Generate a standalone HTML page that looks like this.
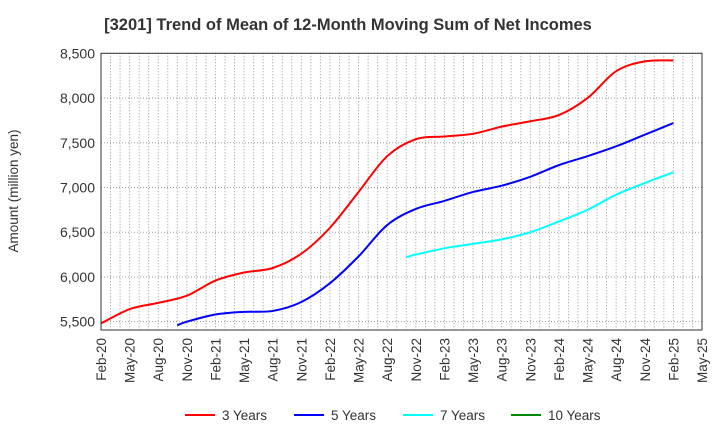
<!DOCTYPE html>
<html><head><meta charset="utf-8"><style>
body{margin:0;background:#fff;font-family:"Liberation Sans",Arial,sans-serif}
svg text{font-family:"Liberation Sans",Arial,sans-serif}
</style></head><body>
<svg id="c" width="720" height="440" viewBox="0 0 720 440" xmlns="http://www.w3.org/2000/svg">
<text x="348" y="30" text-anchor="middle" font-size="16.5" font-weight="bold" fill="#333">[3201]  Trend of Mean of 12-Month Moving Sum of Net Incomes</text>
<text transform="translate(18,191) rotate(-90)" text-anchor="middle" font-size="13.5" fill="#333">Amount (million yen)</text>
<g id="grid"></g><g id="series"></g><g id="axes"></g>
<g>
<g><line x1="185" y1="415" x2="215" y2="415" stroke="#f00" stroke-width="2"/><text x="222" y="420" font-size="13.5" fill="#333">3 Years</text></g>
<g><line x1="294" y1="415" x2="324" y2="415" stroke="#00f" stroke-width="2"/><text x="331" y="420" font-size="13.5" fill="#333">5 Years</text></g>
<g><line x1="403" y1="415" x2="433" y2="415" stroke="#0ff" stroke-width="2"/><text x="440" y="420" font-size="13.5" fill="#333">7 Years</text></g>
<g><line x1="511" y1="415" x2="541" y2="415" stroke="#080" stroke-width="2"/><text x="548" y="420" font-size="13.5" fill="#333">10 Years</text></g>
</g>
</svg>
<script>
const xTickLabels=["Feb-20","May-20","Aug-20","Nov-20","Feb-21","May-21","Aug-21","Nov-21","Feb-22","May-22","Aug-22","Nov-22","Feb-23","May-23","Aug-23","Nov-23","Feb-24","May-24","Aug-24","Nov-24","Feb-25","May-25"];
const yTicks=[5500,6000,6500,7000,7500,8000,8500];
const months3=[0,3,6,9,12,15,18,21,24,27,30,33,36,39,42,45,48,51,54,57,60];
const values3=[5480,5640,5710,5790,5960,6050,6100,6260,6550,6950,7350,7540,7570,7600,7680,7740,7810,8000,8300,8410,8420];
const months5=[8,9,12,15,18,21,24,27,30,33,36,39,42,45,48,51,54,57,60];
const values5=[5460,5500,5580,5610,5620,5720,5930,6230,6580,6760,6850,6950,7020,7120,7250,7350,7460,7590,7720];
const months7=[32,33,36,39,42,45,48,51,54,57,60];
const values7=[6220,6250,6320,6370,6420,6500,6620,6750,6920,7050,7170];
const L=101,R=702,T=53.3,B=330,Ymin=5407,Ymax=8500,Mmax=63;
const X=m=>L+(R-L)*m/Mmax, Y=v=>B-(B-T)*(v-Ymin)/(Ymax-Ymin);
const NS="http://www.w3.org/2000/svg";
function mk(t,a,p){const e=document.createElementNS(NS,t);for(const k in a)e.setAttribute(k,a[k]);p.appendChild(e);return e;}
const grid=document.getElementById('grid'),axes=document.getElementById('axes'),ser=document.getElementById('series');
for(let m=1;m<Mmax;m++){const l=mk('line',{x1:X(m),x2:X(m),y1:T,y2:B,stroke:'#999','stroke-width':1,'stroke-dasharray':'1,2'},grid);

}
yTicks.forEach(v=>{const l=mk('line',{x1:L,x2:R,y1:Y(v),y2:Y(v),stroke:'#999','stroke-width':1,'stroke-dasharray':'1,2'},grid);


const t=mk('text',{x:L-6,y:Y(v)+5,'text-anchor':'end','font-size':14,fill:'#333'},axes);t.textContent=v.toLocaleString('en-US');

});
const fr=mk('rect',{x:L,y:T,width:R-L,height:B-T,fill:'none',stroke:'#333','stroke-width':1},axes);


xTickLabels.forEach((s,i)=>{const x=X(i*3);const t=mk('text',{transform:`translate(${x+5},${B+8}) rotate(-90)`,'text-anchor':'end','font-size':13.5,fill:'#333'},axes);t.textContent=s;

});
function path(ms,vs){const p=ms.map((m,i)=>[X(m),Y(vs[i])]);let d=`M${p[0][0]},${p[0][1]}`;
for(let i=0;i<p.length-1;i++){const p0=p[i-1]||p[i],p1=p[i],p2=p[i+1],p3=p[i+2]||p2;
d+=` C${p1[0]+(p2[0]-p0[0])/6},${p1[1]+(p2[1]-p0[1])/6} ${p2[0]-(p3[0]-p1[0])/6},${p2[1]-(p3[1]-p1[1])/6} ${p2[0]},${p2[1]}`;}return d;}
[[months3,values3,'#f00','series-3-years'],[months5,values5,'#00f','series-5-years'],[months7,values7,'#0ff','series-7-years']].forEach(s=>{
const e=mk('path',{d:path(s[0],s[1]),fill:'none',stroke:s[2],'stroke-width':2},ser);

});
</script>
</body></html>
